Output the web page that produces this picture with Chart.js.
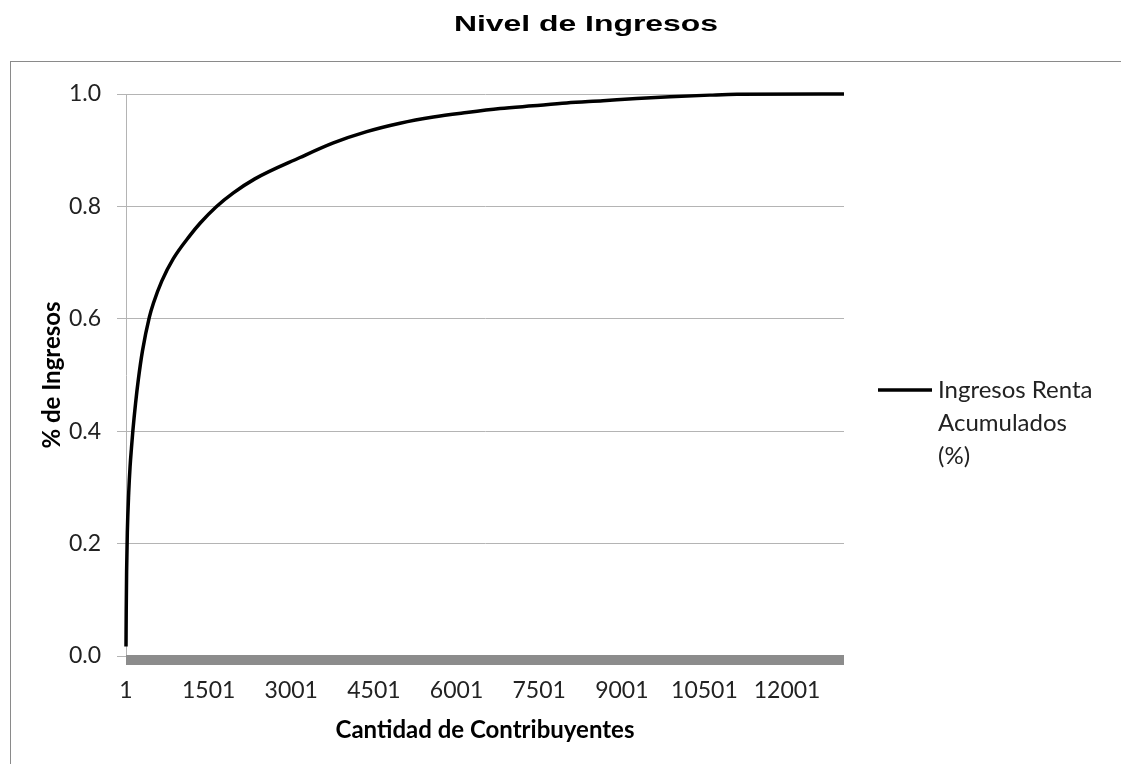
<!DOCTYPE html>
<html lang="es">
<head>
<meta charset="utf-8">
<title>Nivel de Ingresos</title>
<script src="https://cdn.jsdelivr.net/npm/chart.js@4"></script>
<style>
  html, body { margin: 0; padding: 0; background: #ffffff; overflow: hidden; }
  #wrap { position: relative; width: 1121px; height: 764px; }
  #chart { position: absolute; left: 0; top: 0; }
  /* marco del gráfico: sólo bordes izquierdo y superior quedan dentro de la vista */
  #frame {
    position: absolute; left: 10px; top: 61px; width: 1200px; height: 800px;
    border-left: 1px solid #8a8a8a; border-top: 1px solid #8a8a8a;
    pointer-events: none;
  }
</style>
</head>
<body>
<div id="wrap">
  <canvas id="chart" width="1121" height="764"></canvas>
  <div id="frame"></div>
</div>
<script>
// Número de contribuyente (ordenados de mayor a menor renta)
const contribuyentes = [1, 5, 12, 25, 50, 75, 100, 125, 175, 225, 300, 425, 500, 650, 860,
  1160, 1345, 1635, 1950, 2340, 3160, 3765, 4370, 4975, 5580, 6185, 6790, 7390, 8000,
  8660, 9270, 9875, 10600, 11090, 13034];

// Proporción acumulada de los ingresos por renta
const ingresosAcumulados = [0.017, 0.08, 0.15, 0.22, 0.29, 0.337, 0.37, 0.40, 0.450, 0.492,
  0.543, 0.603, 0.628, 0.667, 0.707, 0.748, 0.770, 0.799, 0.824, 0.849, 0.887, 0.913,
  0.933, 0.948, 0.959, 0.967, 0.974, 0.979, 0.984, 0.988, 0.992, 0.995, 0.998, 0.9995, 1.000];

// Marcas de los ejes
const xTickValues = [1, 1501, 3001, 4501, 6001, 7501, 9001, 10501, 12001];
const yTickValues = [0, 0.2, 0.4, 0.6, 0.8, 1.0];

// Texto de la leyenda, en sus renglones
const leyendaLineas = ['Ingresos Renta', 'Acumulados', '(%)'];

const FONT = "Lato, 'Open Sans', 'DejaVu Sans', sans-serif";
const TITLE_CENTER = 586;   // centro del marco del gráfico
const TITLE_STRETCH = 1.45; // el título va ensanchado horizontalmente

// Centra el título sobre el marco completo y lo dibuja ensanchado
const tituloCentrado = {
  id: 'tituloCentrado',
  afterLayout(chart) {
    const t = chart.titleBlock;
    if (!t) return;
    t.left = 0;
    t.right = 2 * TITLE_CENTER;
    t.width = t.right - t.left;
    if (!t._ensanchado) {
      const dibujar = Object.getPrototypeOf(t).draw;
      t.draw = function (...args) {
        const ctx = this.ctx;
        ctx.save();
        ctx.translate(TITLE_CENTER, 0);
        ctx.scale(TITLE_STRETCH, 1);
        ctx.translate(-TITLE_CENTER, 0);
        dibujar.apply(this, args);
        ctx.restore();
      };
      t._ensanchado = true;
    }
  }
};

// Eje horizontal grueso en gris bajo la línea del cero
const ejeGrueso = {
  id: 'ejeGrueso',
  beforeDatasetsDraw(chart, args, opts) {
    const { ctx, chartArea, scales } = chart;
    const y0 = scales.y.getPixelForValue(0);
    ctx.save();
    ctx.fillStyle = opts.color;
    ctx.fillRect(chartArea.left, y0 - 1, chartArea.right - chartArea.left, opts.thickness);
    ctx.restore();
  }
};

// Leyenda lateral con el texto repartido en varios renglones
const leyendaLateral = {
  id: 'leyendaLateral',
  afterDraw(chart, args, opts) {
    const { ctx, chartArea } = chart;
    const ds = chart.data.datasets[0];
    const x0 = chartArea.right + opts.offsetX;
    const y0 = (chartArea.top + chartArea.bottom) / 2 + opts.offsetY;
    ctx.save();
    ctx.strokeStyle = ds.borderColor;
    ctx.lineWidth = ds.borderWidth;
    ctx.lineCap = 'butt';
    ctx.beginPath();
    ctx.moveTo(x0, y0);
    ctx.lineTo(x0 + opts.lineLength, y0);
    ctx.stroke();
    ctx.font = opts.font;
    ctx.fillStyle = opts.color;
    ctx.textAlign = 'left';
    ctx.textBaseline = 'middle';
    opts.lines.forEach((linea, i) => {
      ctx.fillText(linea, x0 + opts.lineLength + opts.gap, y0 + i * opts.lineHeight);
    });
    ctx.restore();
  }
};

new Chart(document.getElementById('chart'), {
  type: 'line',
  data: {
    datasets: [{
      label: leyendaLineas.join(' '),
      data: contribuyentes.map((c, i) => ({ x: c, y: ingresosAcumulados[i] })),
      borderColor: '#000000',
      backgroundColor: '#000000',
      borderWidth: 3.5,
      pointRadius: 0,
      cubicInterpolationMode: 'monotone',
      fill: false,
      clip: false
    }]
  },
  options: {
    responsive: false,
    animation: false,
    devicePixelRatio: 1,
    layout: { padding: { left: 0, right: 277, top: 0, bottom: 0 } },
    plugins: {
      legend: { display: false },
      tooltip: { enabled: false },
      title: {
        display: true,
        text: 'Nivel de Ingresos',
        color: '#000000',
        font: { family: "'Liberation Sans', Arial, sans-serif", size: 22, weight: 'bold' },
        padding: { top: 12, bottom: 55.6 }
      },
      ejeGrueso: { color: '#8c8c8c', thickness: 10 },
      leyendaLateral: {
        lines: leyendaLineas,
        offsetX: 34,
        offsetY: 15,
        lineLength: 54,
        gap: 6,
        lineHeight: 33,
        font: `24px ${FONT}`,
        color: '#222222'
      }
    },
    scales: {
      x: {
        type: 'linear',
        min: contribuyentes[0],
        max: contribuyentes[contribuyentes.length - 1],
        afterBuildTicks(scale) { scale.ticks = xTickValues.map(v => ({ value: v })); },
        afterFit(scale) { scale.height = 108; },
        grid: { display: false, drawTicks: false },
        border: { display: false },
        ticks: {
          autoSkip: false,
          maxRotation: 0,
          padding: 21,
          color: '#222222',
          font: { family: FONT, size: 23 },
          callback: v => String(v)
        },
        title: {
          display: true,
          text: 'Cantidad de Contribuyentes',
          color: '#000000',
          font: { family: FONT, size: 24, weight: 'bold' },
          padding: { top: 0, bottom: 19 }
        }
      },
      y: {
        min: 0,
        max: 1,
        afterBuildTicks(scale) { scale.ticks = yTickValues.map(v => ({ value: v })); },
        afterFit(scale) { scale.width = 126; },
        grid: { color: '#b4b4b4', lineWidth: 1, drawTicks: true, tickLength: 9 },
        border: { display: true, color: '#b4b4b4', width: 1 },
        ticks: {
          padding: 16,
          color: '#222222',
          font: { family: FONT, size: 23 },
          callback: v => Number(v).toFixed(1)
        },
        title: {
          display: true,
          text: '% de Ingresos',
          color: '#000000',
          font: { family: FONT, size: 24, weight: 'bold' },
          padding: { top: 37.6, bottom: 0 }
        }
      }
    }
  },
  plugins: [tituloCentrado, ejeGrueso, leyendaLateral]
});
</script>
</body>
</html>
